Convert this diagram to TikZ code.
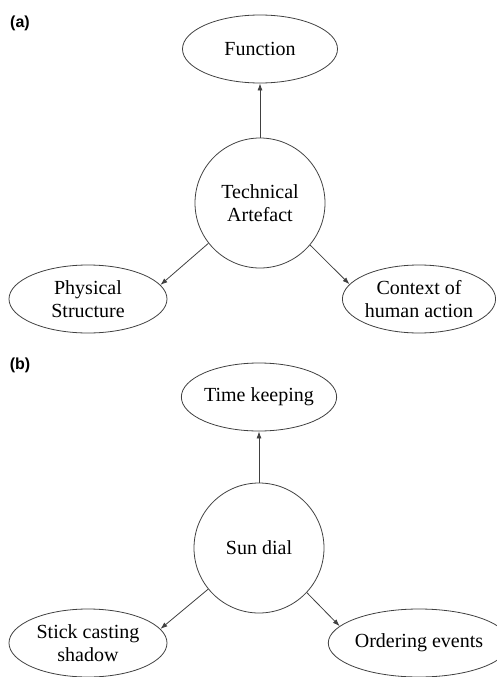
\documentclass[tikz,border=0pt]{standalone}
\usepackage{fontspec}
\setmainfont{Liberation Serif}
\newfontfamily\panelfont{Liberation Sans}
\usetikzlibrary{shapes.geometric,arrows.meta}
\tikzset{
	bubble/.style={draw=black!75, line width=0.8pt, ellipse, minimum width=155pt, minimum height=68pt, inner sep=0pt, align=center, font=\fontsize{20}{23}\selectfont},
	hub/.style={draw=black!75, line width=0.8pt, circle, minimum size=130pt, inner sep=0pt, align=center, font=\fontsize{20}{23}\selectfont},
	link/.style={draw=black!75, line width=0.8pt, -{Latex[length=7pt,width=5pt]}},
	panel/.style={font=\panelfont\bfseries\fontsize{16}{18}\selectfont}
}
\begin{document}
\begin{tikzpicture}[x=1pt,y=-1pt]
	\useasboundingbox (0,0) rectangle (496,677);
	\node[panel] (a) at (20,23) {(a)};
	\node[bubble] (func) at (260,49) {Function};
	\node[hub] (ta) at (260,203) {Technical\\Artefact};
	\node[bubble, minimum width=158pt] (phys) at (88,299) {Physical\\Structure};
	\node[bubble, minimum width=152pt] (ctx) at (419,299) {Context of\\human action};
	\draw[link] (ta) -- (func);
	\draw[link] (ta.218) -- (phys.11);
	\draw[link] (ta.320) -- (ctx.168);

	\node[panel] (b) at (20,365) {(b)};
	\node[bubble] (keep) at (259,397) {Time keeping};
	\node[hub] (sun) at (259,548) {Sun dial};
	\node[bubble, minimum width=158pt] (stick) at (88,643) {Stick casting\\shadow};
	\node[bubble, minimum width=152pt] (order) at (419,643) {Ordering events};
	\draw[link] (sun) -- (keep);
	\draw[link] (sun.219) -- (stick.11);
	\draw[link] (sun.317) -- (order.168);
\end{tikzpicture}
\end{document}
